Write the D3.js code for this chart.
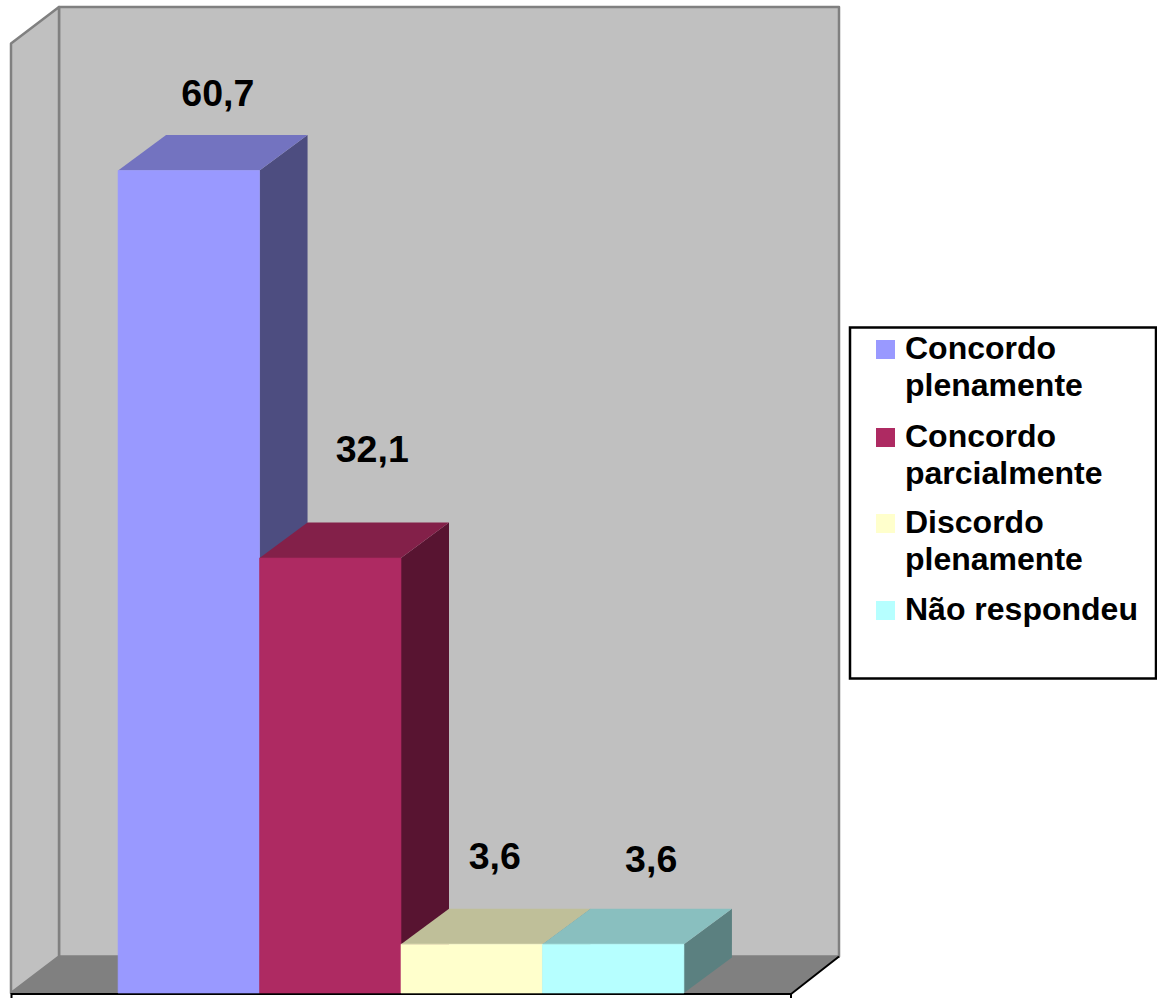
<!DOCTYPE html>
<html>
<head>
<meta charset="utf-8">
<script src="https://cdn.jsdelivr.net/npm/d3@7"></script>
<style>
  html, body { margin: 0; padding: 0; background: #fff; }
  svg { display: block; }
  text { font-family: "Liberation Sans", Arial, sans-serif; font-weight: 700; fill: #000; }
</style>
</head>
<body>
<div id="chart"></div>
<script>
// Survey answers, in percent
const categories = ["Concordo plenamente", "Concordo parcialmente", "Discordo plenamente", "Não respondeu"];
const values = [60.7, 32.1, 3.6, 3.6];
const valueLabels = ["60,7", "32,1", "3,6", "3,6"];
const legendLines = [["Concordo", "plenamente"], ["Concordo", "parcialmente"], ["Discordo", "plenamente"], ["Não respondeu"]];
const frontColors = ["#9999ff", "#ae2a62", "#ffffcc", "#b6ffff"];
const topColors = ["#7373c0", "#832049", "#bfbf99", "#89bfbf"];
const sideColors = ["#4d4d80", "#581431", "#808066", "#5b8080"];

const width = 1157, height = 998;
const svg = d3.select("#chart").append("svg").attr("width", width).attr("height", height);

// Oblique projection: walls recede slightly further than the column tops
const depthX = 48, wallDepthY = -36.5, barDepthY = -35.5;
const floorFrontY = 993, ceilFrontY = 43.5;
const boxLeft = 11, boxRight = 791;

const y = d3.scaleLinear().domain([0, 70]).range([floorFrontY, 44.5]);
const x = d3.scaleBand().domain(categories).range([boxLeft, boxRight]).paddingInner(0).paddingOuter(0.757);

const poly = pts => {
  const p = d3.path();
  pts.forEach((q, i) => i ? p.lineTo(q[0], q[1]) : p.moveTo(q[0], q[1]));
  p.closePath();
  return p.toString();
};
const wallBack = ([px, py]) => [px + depthX, py + wallDepthY];
const barBack = ([px, py]) => [px + depthX, py + barDepthY];

// Walls and floor
const wallEdge = { stroke: "#808080", "stroke-width": 2.5, "stroke-linejoin": "round" };
const addFace = (g, pts, fill, style = {}) => {
  const el = g.append("path").attr("d", poly(pts)).attr("fill", fill);
  Object.entries(style).forEach(([k, v]) => el.attr(k, v));
  return el;
};

const box = svg.append("g");
const bl = [boxLeft, floorFrontY], tl = [boxLeft, ceilFrontY], br = [boxRight, floorFrontY];
addFace(box, [wallBack(bl), wallBack(tl), wallBack([boxRight, ceilFrontY]), wallBack(br)], "#c0c0c0", wallEdge);
addFace(box, [bl, tl, wallBack(tl), wallBack(bl)], "#c0c0c0", wallEdge);
addFace(box, [bl, br, wallBack(br), wallBack(bl)], "#808080");

// Dark front and right edges of the floor
box.append("path")
  .attr("d", d3.line()([[boxLeft + 0.5, 998], [boxLeft + 0.5, floorFrontY + 1], [boxRight, floorFrontY + 1], wallBack(br)]))
  .attr("fill", "none").attr("stroke", "#000").attr("stroke-width", 2);
box.append("line")
  .attr("x1", boxRight).attr("x2", boxRight).attr("y1", floorFrontY + 1).attr("y2", 998)
  .attr("stroke", "#000").attr("stroke-width", 2);

// Columns, left to right so each one overlaps the side of the previous
const bars = svg.append("g").selectAll("g").data(categories).join("g");
bars.each(function (c, i) {
  const g = d3.select(this);
  const x0 = x(c), x1 = x0 + x.bandwidth(), yTop = y(values[i]), yBase = y(0);
  addFace(g, [[x1, yBase], [x1, yTop], barBack([x1, yTop]), barBack([x1, yBase])], sideColors[i]);
  addFace(g, [[x0, yTop], [x1, yTop], barBack([x1, yTop]), barBack([x0, yTop])], topColors[i]);
  addFace(g, [[x0, yBase], [x0, yTop], [x1, yTop], [x1, yBase]], frontColors[i],
    { stroke: frontColors[i], "stroke-width": 0.6 });
});

// Value labels sit above each column, offset from the column top
const labelShift = [[-19, -65], [-6, -96], [-25, -75], [-10, -72]];
svg.append("g").selectAll("text").data(categories).join("text")
  .attr("x", (c, i) => x(c) + x.bandwidth() / 2 + depthX + labelShift[i][0])
  .attr("y", (c, i) => y(values[i]) + labelShift[i][1])
  .attr("text-anchor", "middle")
  .attr("font-size", 37.5)
  .text((c, i) => valueLabels[i]);

// Legend
const legend = svg.append("g");
legend.append("rect")
  .attr("x", 850).attr("y", 327.5).attr("width", 306).attr("height", 351)
  .attr("fill", "#fff").attr("stroke", "#000").attr("stroke-width", 2.5);
const legendBaselines = [359, 447, 533, 620];
const legendRow = legend.selectAll("g").data(categories).join("g")
  .attr("transform", (c, i) => `translate(0,${legendBaselines[i]})`);
legendRow.append("rect")
  .attr("x", 876).attr("y", -19).attr("width", 19).attr("height", 19)
  .attr("fill", (c, i) => frontColors[i]);
legendRow.append("text")
  .attr("x", 905)
  .attr("font-size", 32)
  .selectAll("tspan").data((c, i) => legendLines[i]).join("tspan")
  .attr("x", 905)
  .attr("dy", (d, j) => j ? 37 : 0)
  .text(d => d);
</script>
</body>
</html>
